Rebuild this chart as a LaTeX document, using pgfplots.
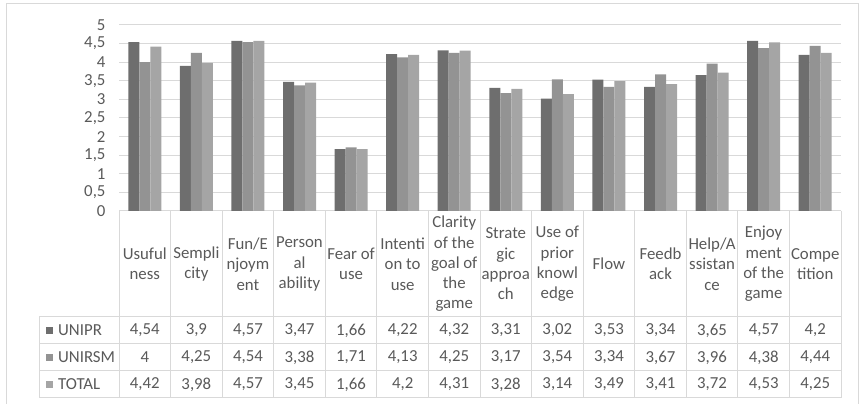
\documentclass[border=0pt]{standalone}
\usepackage{fontspec}
\setmainfont{Carlito}
\usepackage{pgfplots}
\usepackage{pgfplotstable}
\pgfplotsset{compat=1.18}

\definecolor{cUNIPR}{HTML}{6E6E6E}
\definecolor{cUNIRSM}{HTML}{939393}
\definecolor{cTOTAL}{HTML}{A5A5A5}
\definecolor{txt}{HTML}{595959}
\definecolor{gridc}{HTML}{D9D9D9}

\pgfkeys{/pgf/number format/.cd, use comma, assume math mode=true}

% mean scores per item
\pgfplotstableread{
idx UNIPR UNIRSM TOTAL
0  4.54 4    4.42
1  3.9  4.25 3.98
2  4.57 4.54 4.57
3  3.47 3.38 3.45
4  1.66 1.71 1.66
5  4.22 4.13 4.2
6  4.32 4.25 4.31
7  3.31 3.17 3.28
8  3.02 3.54 3.14
9  3.53 3.34 3.49
10 3.34 3.67 3.41
11 3.65 3.96 3.72
12 4.57 4.38 4.53
13 4.2  4.44 4.25
}\data

\newcommand{\fs}{\fontsize{16.8}{20.3}\selectfont}

\begin{document}
\begin{tikzpicture}[font=\fs, text=txt]
\useasboundingbox (0pt,0pt) rectangle (862pt,404pt);
\draw[gridc, line width=1pt] (6pt,0pt) -- (6pt,400pt) -- (858pt,400pt) -- (858pt,0pt);

\begin{axis}[
    at={(119pt,193pt)}, anchor=south west,
    scale only axis,
    width=722pt, height=186pt,
    xmin=-0.5, xmax=13.5,
    ymin=0, ymax=5,
    ytick distance=0.5,
    xtick=data,
    xticklabels={{Usuful\\ness},{Sempli\\city},{Fun/E\\njoym\\ent},{Person\\al\\ability},
        {Fear of\\use},{Intenti\\on to\\use},{Clarity\\of the\\goal of\\the\\game},
        {Strate\\gic\\approa\\ch},{Use of\\prior\\knowl\\edge},{Flow},{Feedb\\ack},
        {Help/A\\ssistan\\ce},{Enjoy\\ment\\of the\\game},{Compe\\tition}},
    xticklabel style={align=center, anchor=center, yshift=-53pt},
    yticklabel style={xshift=-10pt},
    ticklabel style={font=\fs, text=txt},
    /pgf/number format/use comma,
    /pgf/number format/assume math mode=true,
    major tick length=0pt,
    axis line style={draw=none},
    ymajorgrids,
    grid style={gridc, line width=1pt},
    ybar=0pt, bar width=11pt,
]
\addplot[fill=cUNIPR, draw=none] table[x=idx, y=UNIPR] {\data};
\addplot[fill=cUNIRSM, draw=none] table[x=idx, y=UNIRSM] {\data};
\addplot[fill=cTOTAL, draw=none] table[x=idx, y=TOTAL] {\data};
\end{axis}

% data table below the chart
\begin{scope}[gridc, line width=1pt]
\foreach \k in {0,...,14}
    \draw (119pt+\k*51.571pt,193pt) -- (119pt+\k*51.571pt,6pt);
\draw (39pt,87pt) -- (39pt,6pt);
\foreach \y in {87,60,33,6}
    \draw (39pt,\y pt) -- (841pt,\y pt);
\end{scope}

\foreach \c/\y in {UNIPR/73.5,UNIRSM/46.5,TOTAL/19.5}{
    \fill[c\c] (45.7pt,\y pt-3.5pt) rectangle ++(7pt,7pt);
    \node[anchor=west, inner sep=0pt] at (58pt,\y pt) {\c};
}

\foreach \k in {0,...,13}{
    \foreach \c/\y in {UNIPR/73.5,UNIRSM/46.5,TOTAL/19.5}{
        \pgfplotstablegetelem{\k}{\c}\of\data
        \node at (144.79pt+\k*51.571pt,\y pt) {\pgfmathprintnumber{\pgfplotsretval}};
    }
}
\end{tikzpicture}
\end{document}
